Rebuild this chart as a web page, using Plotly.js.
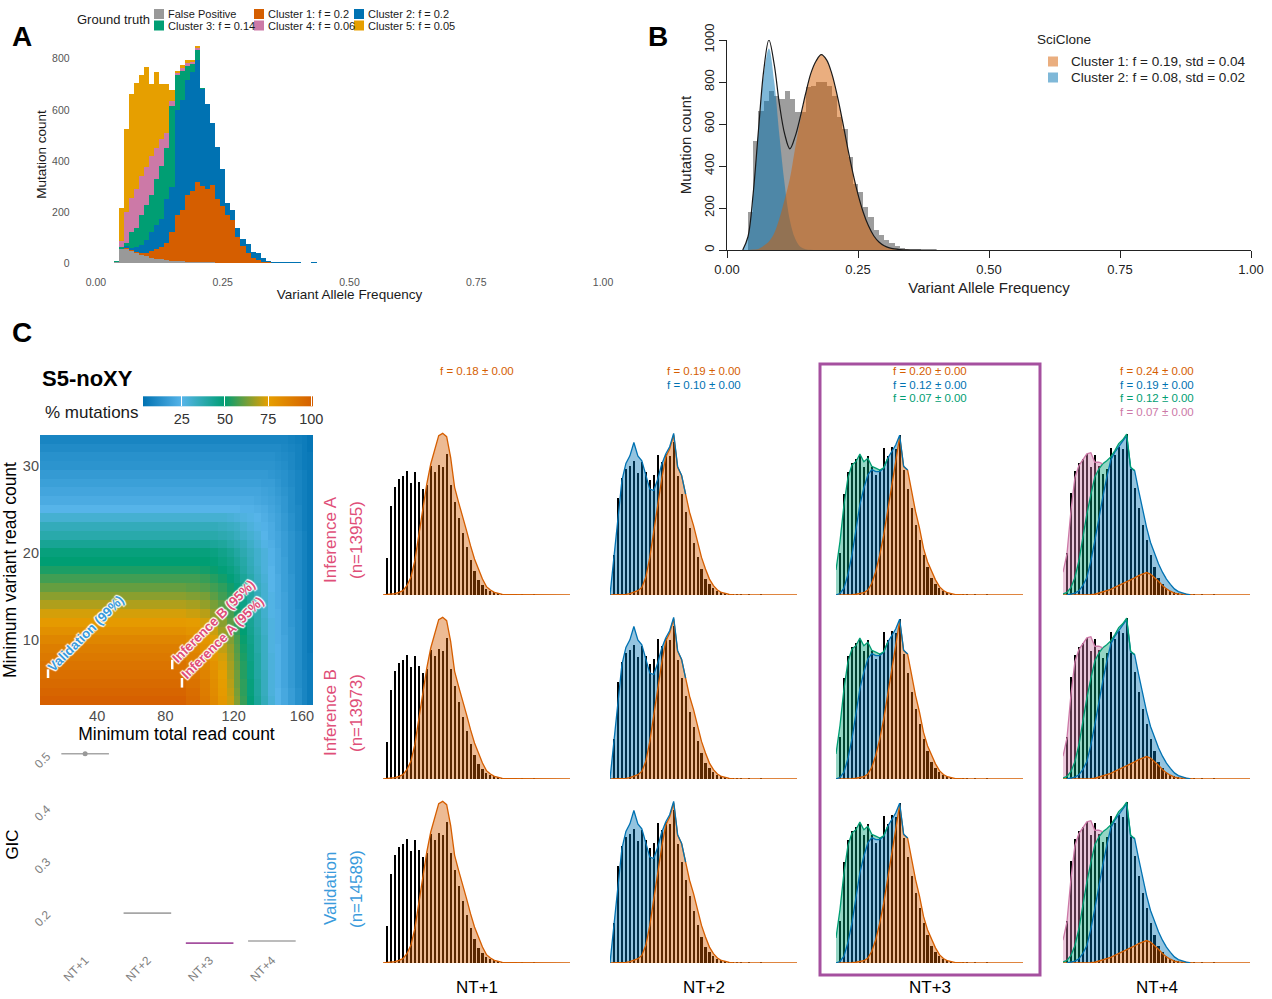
<!DOCTYPE html>
<html><head><meta charset="utf-8">
<script src="https://cdn.plot.ly/plotly-3.0.1.min.js"></script>
<style>html,body{margin:0;padding:0;background:#fff}#chart{width:1272px;height:999px}</style>
</head><body><div id="chart"></div>
<script>
// ================= DATA =================
// ---- Panel A: ground-truth stacked histogram (bin centres, counts) ----
const vafA = [0.04,0.05,0.06,0.07,0.08,0.09,0.10,0.11,0.12,0.13,
  0.14,0.15,0.16,0.17,0.18,0.19,0.20,0.21,0.22,0.23,
  0.24,0.25,0.26,0.27,0.28,0.29,0.30,0.31,0.32,0.33,
  0.34,0.35,0.36,0.37,0.38,0.39,0.40,0.41,0.42,0.43,
  0.44,0.45,0.46,0.47,0.48,0.49,0.50,0.51,0.52,0.53,
  0.54,0.55,0.56,0.57,0.58];
const falsePositive = [4,55,56,48,39,33,28,20,18,15, 12,10,8,7,6,5,5,4,3,3, 2,2,2,1,1,1,0,0,0,0,
  0,0,0,0,0,1,1,0,0,0, 0,0,0,0,1,1,0,0,0,0, 0,0,0,0,1];
const cluster1 = [0,0,2,3,4,5,11,29,38,50, 66,113,181,202,259,279,314,297,288,301, 250,222,188,167,100,65,40,22,12,6, 3,1,0,1];
const cluster2 = [0,2,8,10,22,33,51,74,93,109, 174,177,412,431,452,465,478,382,333,246, 201,145,47,39,35,28,34,23,27,13,
  7,4,3,5,3,2,2,1,2,3, 2,1];
const cluster3 = [3,5,12,62,73,116,136,142,180,207, 200,314,135,113,54,32,38,3];
const cluster4 = [0,25,122,133,153,155,149,155,123,103, 58,19,10,12,12,8,6];
const cluster5 = [0,128,326,405,413,394,394,282,295,218, 192,45,7,10,14,6,8];
const truthNames = ['False Positive','Cluster 1: f = 0.2','Cluster 2: f = 0.2','Cluster 3: f = 0.14','Cluster 4: f = 0.06','Cluster 5: f = 0.05'];

// ---- Panel B: SciClone fit ----
const binB = [0.045,0.055,0.065,0.075,0.085,0.095,0.105,0.115,0.125,0.135,
  0.145,0.155,0.165,0.175,0.185,0.195,0.205,0.215,0.225,0.235,
  0.245,0.255,0.265,0.275,0.285,0.295,0.305,0.315,0.325,0.335,
  0.345,0.355,0.365,0.375,0.385,0.395,0.405,0.415];
const countB = [182,521,663,711,755,735,719,755,719,655, 655,774,782,798,798,782,735,632,577,442,
  316,276,205,158,95,71,47,32,19,11, 6,4,3,2,2,1,1,1];
const gridB = [0.03,0.04,0.05,0.06,0.07,0.08,0.09,0.10,0.11,0.12,
  0.13,0.14,0.15,0.16,0.17,0.18,0.19,0.20,0.21,0.22,
  0.23,0.24,0.25,0.26,0.27,0.28,0.29,0.30,0.31,0.32,
  0.33,0.34,0.35,0.36,0.37,0.38,0.39,0.40];
const sciCluster1 = [0,0,2,5,20,40,80,150,240,340, 485,620,740,840,900,930,905,840,740,620,
  490,370,265,180,115,68,38,20,10,5, 2,1,0,0,0,0,0,0];
const sciCluster2 = [0,63,268,564,833,960,805,545,313,142, 55,15,4,1,0,0,0,0,0,0,
  0,0,0,0,0,0,0,0,0,0, 0,0,0,0,0,0,0,0];
const sciNames = ['Cluster 1: f = 0.19, std = 0.04','Cluster 2: f = 0.08, std = 0.02'];

// ---- Panel C heatmap: % mutations retained ----
const minTotalEdges = [6.5,92,100,106,111,116,120,124,128,132,136,140,144,148,152,156,160,163,166.5];
const minVariant = [3,4,5,6,7,8,9,10,11,12,13,14,15,16,17,18,19,20,21,22,23,24,25,26,27,28,29,30,31,32,33];
const pctMutations = [
  [100,96,90,84,78,72,64,56,49,42,35,29,25,21,17,13,9,6],
  [98,95,89,83,77,71,63,55,48,41,34,28,25,21,17,13,9,6],
  [96,93,88,82,76,70,62,55,48,41,34,28,24,20,16,12,9,6],
  [94,91,86,81,75,69,62,54,47,40,34,28,24,20,16,12,9,6],
  [92,89,85,80,74,68,61,54,47,40,33,28,24,20,16,12,8,6],
  [90,87,83,78,73,67,60,53,46,40,33,28,24,20,16,12,8,6],
  [88,85,81,76,71,66,59,52,46,39,33,27,24,20,16,12,8,5],
  [85,83,79,74,69,64,58,51,45,39,33,27,23,20,16,12,8,5],
  [81,79,76,72,67,62,56,50,44,38,32,27,23,19,16,12,8,5],
  [77,76,73,69,65,60,55,49,43,37,32,27,23,19,15,12,8,5],
  [73,72,70,66,62,58,53,48,42,37,31,26,23,19,15,12,8,5],
  [69,68,66,63,60,56,51,46,41,36,31,26,22,19,15,11,8,5],
  [65,64,63,60,57,54,50,45,40,35,30,26,22,19,15,11,8,5],
  [61,60,59,57,55,52,48,44,39,34,30,25,22,18,15,11,8,5],
  [57,57,56,54,52,49,46,42,38,33,29,25,22,18,15,11,8,5],
  [53,53,52,51,49,47,44,40,36,32,28,25,21,18,14,11,8,5],
  [50,50,50,49,47,45,42,39,35,31,28,24,21,18,14,11,8,5],
  [48,48,48,47,45,43,40,37,34,31,28,24,21,17,14,11,8,5],
  [43,43,43,42,41,39,37,35,32,29,26,23,20,17,14,11,8,5],
  [38,38,38,38,37,36,34,32,30,28,25,22,20,17,14,11,8,5],
  [35,35,35,35,34,33,32,30,28,26,24,22,19,16,13,10,7,5],
  [30,30,30,30,30,29,28,27,26,25,23,21,19,16,13,10,7,5],
  [25,25,25,25,25,25,25,24,24,23,22,20,18,15,12,10,7,5],
  [22,22,22,22,22,22,22,22,22,21,20,19,17,15,12,9,7,5],
  [20,20,20,20,20,20,20,20,20,20,19,18,16,14,12,9,7,5],
  [18,18,18,18,18,18,18,18,18,18,17,17,15,13,11,9,7,5],
  [16,16,16,16,16,16,16,16,16,16,16,15,14,13,11,9,7,5],
  [14,14,14,14,14,14,14,14,14,14,14,14,13,12,10,8,6,5],
  [13,13,13,13,13,13,13,13,13,13,13,13,12,11,10,8,6,5],
  [11,11,11,11,11,11,11,11,11,11,11,11,11,10,9,8,6,4],
  [9,9,9,9,9,9,9,9,9,9,9,9,9,9,8,7,6,4]];

// ---- Panel C: GIC per number of clusters ----
const gicCategories = ['NT+1','NT+2','NT+3','NT+4'];
const gicValues = [0.502, 0.200, 0.143, 0.147];

// ---- Panel C: VAF histograms with fitted cluster densities ----
const binC = [0.04,0.05,0.06,0.07,0.08,0.09,0.10,0.11,0.12,0.13,
  0.14,0.15,0.16,0.17,0.18,0.19,0.20,0.21,0.22,0.23,
  0.24,0.25,0.26,0.27,0.28,0.29,0.30,0.31,0.32,0.33,
  0.34,0.35,0.36,0.37,0.38,0.39,0.40,0.41,0.42,0.43,
  0.44,0.45,0.46,0.47,0.48,0.49,0.50];
const histC = [110,268,325,348,358,371,337,368,339,318, 331,387,368,390,385,422,330,280,230,185,
  145,105,73,45,30,18,11,8,5,3, 3,2,2,1,2,1,1,2,1,1, 0,1,0,0,0,0,0];
const vafC = [0.03,0.04,0.05,0.06,0.07,0.08,0.09,0.10,0.11,0.12,
  0.13,0.14,0.15,0.16,0.17,0.18,0.19,0.20,0.21,0.22,
  0.23,0.24,0.25,0.26,0.27,0.28,0.29,0.30,0.31,0.32,
  0.33,0.34,0.35,0.36,0.37,0.38,0.39,0.40,0.41,0.42,
  0.43,0.44,0.45,0.46,0.47,0.48,0.49,0.50];
const nt1Orange = [0,1,2,4,8,13,28,53,103,183, 263,333,393,433,478,485,475,413,323,278,
  238,193,148,108,78,48,25,15,8,4, 2,1,1,0,0,1,0,0,0,0, 0,0,0,0,0,0,0,0];
const nt2Orange = [0,0,0,1,2,4,7,12,21,49, 104,178,252,321,381,404,443,353,330,279,
  229,192,146,104,72,44,26,14,7,4, 2,1,0,0,0,0,1,0,0,0, 0,0,0,0,0,0,0,0];
const nt2Blue = [0,104,215,316,362,381,415,373,350,286, 189,111,69,41,9,6,4,2,1,0,
  0,0,0,0,0,0,0,0,0,0, 0,0,0,0,0,0,0,0,0,0, 0,0,0,0,0,0,0,0];
const nt3Orange = [0,0,0,1,1,2,3,6,13,31, 62,106,159,220,282,352,418,339,330,273,
  220,176,123,88,62,40,22,12,6,3, 1,1,0,0,0,0,0,0,0,0, 0,0,0,0,0,0,0,0];
const nt3Blue = [0,4,18,53,104,174,235,276,304,300, 264,220,176,141,97,44,4,1,0,0,
  0,0,0,0,0,0,0,0,0,0, 0,0,0,0,0,0,0,0,0,0, 0,0,0,0,0,0,0,0];
const nt3Green = [66,137,220,256,238,176,134,70,44,9, 9,4,1,0,0,0,0,0,0,0,
  0,0,0,0,0,0,0,0,0,0, 0,0,0,0,0,0,0,0,0,0, 0,0,0,0,0,0,0,0];
const nt4Orange = [0,0,0,0,0,0,0,1,2,5, 8,11,15,20,25,29,33,38,45,51,
  55,59,55,46,36,25,16,10,5,3, 2,1,0,0,0,0,0,0,0,0, 0,0,0,0,0,0,0,0];
const nt4Blue = [0,0,2,5,11,25,46,88,141,199, 249,298,339,355,364,373,386,296,282,224,
  167,119,83,61,46,35,26,18,11,6, 3,1,0,0,0,0,0,0,0,0, 0,0,0,0,0,0,0,0];
const nt4Green = [3,7,18,41,79,127,167,175,167,127, 88,44,9,4,9,6,4,2,0,0,
  0,0,0,0,0,0,0,0,0,0, 0,0,0,0,0,0,0,0,0,0, 0,0,0,0,0,0,0,0];
const nt4Pink = [57,101,202,263,250,202,158,110,39,18, 0,0,0,0,0,0,0,0,0,0,
  0,0,0,0,0,0,0,0,0,0, 0,0,0,0,0,0,0,0,0,0, 0,0,0,0,0,0,0,0];
const cloneFreqs = [[0.18],[0.19,0.10],[0.20,0.12,0.07],[0.24,0.19,0.12,0.07]];
const ntLabels = ['NT+1','NT+2','NT+3','NT+4'];
const rowNames = [['Inference A','(n=13955)'],['Inference B','(n=13973)'],['Validation','(n=14589)']];

// ================= STYLE / LAYOUT =================
const W = 1272, H = 999;
const F = 'Liberation Sans, Arial, Helvetica, sans-serif';
const dx = (a, b) => [a / W, b / W];
const dy = (bottom, top) => [1 - bottom / H, 1 - top / H];
const PAL = {grey:'#999999', orange:'#D55E00', blue:'#0072B2', green:'#009E73', pink:'#CC79A7', yellow:'#E69F00'};
const truthColors = [PAL.grey, PAL.orange, PAL.blue, PAL.green, PAL.pink, PAL.yellow];
const layerColors = [PAL.orange, PAL.blue, PAL.green, PAL.pink];
const layerFills = ['rgba(213,94,0,0.42)','rgba(0,114,178,0.42)','rgba(0,158,115,0.42)','rgba(204,121,167,0.42)'];
const pink = '#DF4F79', sky = '#3A9BDC';

const traces = [];
const shapes = [];
const annotations = [];
const ann = (text, x, y, o = {}) => {
  const a = Object.assign({text, x: x / W, y: 1 - y / H, xref:'paper', yref:'paper', showarrow:false,
    xanchor:'center', yanchor:'middle'}, o);
  a.font = Object.assign({family:F, size:12, color:'#1a1a1a'}, o.font || {});
  annotations.push(a);
};

// ---- Panel A traces ----
[falsePositive, cluster1, cluster2, cluster3, cluster4, cluster5].forEach((ys, k) => {
  traces.push({type:'bar', x: vafA, y: ys, width: 0.01, name: truthNames[k],
    marker:{color: truthColors[k], line:{width:0}}, xaxis:'x', yaxis:'y', hoverinfo:'skip'});
});

// ---- Panel B traces ----
traces.push({type:'bar', x: binB, y: countB, width: 0.01, marker:{color:'#9d9d9d', line:{width:0}},
  xaxis:'x2', yaxis:'y2', hoverinfo:'skip'});
traces.push({type:'scatter', mode:'lines', x: gridB, y: sciCluster2, fill:'tozeroy', name: sciNames[1],
  fillcolor:'rgba(0,114,178,0.5)', line:{width:0, shape:'spline'}, xaxis:'x2', yaxis:'y2', hoverinfo:'skip'});
traces.push({type:'scatter', mode:'lines', x: gridB, y: sciCluster1, fill:'tozeroy', name: sciNames[0],
  fillcolor:'rgba(213,94,0,0.5)', line:{width:0, shape:'spline'}, xaxis:'x2', yaxis:'y2', hoverinfo:'skip'});
traces.push({type:'scatter', mode:'lines', x: gridB, y: gridB.map((_, i) => sciCluster1[i] + sciCluster2[i]),
  line:{color:'#1a1a1a', width:1.2, shape:'spline'}, xaxis:'x2', yaxis:'y2', hoverinfo:'skip'});

// ---- Heatmap ----
traces.push({type:'heatmap', x: minTotalEdges, y: minVariant, z: pctMutations, zmin: 2.5, zmax: 101,
  colorscale:[[0,'#0072B2'],[0.228,'#56B4E9'],[0.482,'#009E73'],[0.736,'#E69F00'],[1,'#D55E00']],
  xaxis:'x3', yaxis:'y3', hoverinfo:'skip',
  colorbar:{orientation:'h', x: 143 / W, xanchor:'left', y: 1 - 417 / H, yanchor:'middle',
    len:170, lenmode:'pixels', thickness:10, thicknessmode:'pixels', outlinewidth:0, xpad:0, ypad:0,
    tickvals:[25,50,75,100], ticks:'inside', ticklen:10, tickcolor:'#ffffff', tickwidth:1,
    tickfont:{family:F, size:14.5, color:'#333'}}});

// ---- GIC ----
traces.push({type:'scatter', mode:'markers', x: gicCategories, y: gicValues,
  marker:{symbol:'line-ew', size:34, line:{width:1.6, color:['#a6a6a6','#a6a6a6','#A5509F','#a6a6a6']}},
  xaxis:'x4', yaxis:'y4', hoverinfo:'skip'});
traces.push({type:'scatter', mode:'markers', x: gicCategories.slice(0,1), y: gicValues.slice(0,1),
  marker:{symbol:'circle', size:5, color:'#999'}, xaxis:'x4', yaxis:'y4', hoverinfo:'skip'});

// ---- Panel C histograms ----
const cLayers = [[nt1Orange],[nt2Orange, nt2Blue],[nt3Orange, nt3Blue, nt3Green],[nt4Orange, nt4Blue, nt4Green, nt4Pink]];
const colPx = [[383,570],[610,797],[836,1023],[1063,1250]];
const rowBase = [595, 779, 963];
const yTop = [501, 462, 441, 439];
const layoutAxes = {};
cLayers.forEach((layers, j) => {
  for (let r = 0; r < 3; r++) {
    const n = 5 + r * 4 + j;
    const xa = 'x' + n, ya = 'y' + n;
    let cum = vafC.map(() => 0);
    const cums = layers.map(layer => (cum = cum.map((v, i) => v + layer[i])));
    cums.forEach((c, k) => traces.push({type:'scatter', mode:'lines', x: vafC, y: c,
      fill: k === 0 ? 'tozeroy' : 'tonexty', fillcolor: layerFills[k], line:{width:0},
      xaxis: xa, yaxis: ya, hoverinfo:'skip'}));
    cums.forEach((c, k) => {
      const L = layers[k];
      const y = c.map((v, i) => (k === 0 || L[i] > 0 || (i > 0 && L[i-1] > 0) || (i < L.length - 1 && L[i+1] > 0)) ? v : null);
      traces.push({type:'scatter', mode:'lines', x: vafC, y, line:{color: layerColors[k], width:1.3},
        xaxis: xa, yaxis: ya, hoverinfo:'skip'});
    });
    traces.push({type:'bar', x: binC, y: histC, width: 0.0052, marker:{color:'#000', line:{width:0}},
      xaxis: xa, yaxis: ya, hoverinfo:'skip'});
    const hidden = {showgrid:false, zeroline:false, showline:false, showticklabels:false, ticks:''};
    layoutAxes['xaxis' + n] = Object.assign({domain: dx(colPx[j][0], colPx[j][1]), range:[0.03, 0.50], anchor: ya}, hidden);
    layoutAxes['yaxis' + n] = Object.assign({domain: dy(rowBase[r], rowBase[r] - 167), range:[0, yTop[j]], anchor: xa}, hidden);
  }
});

// ---- Shapes: legend keys, frame, heatmap threshold ticks ----
truthNames.forEach((nm, k) => {
  const col = k % 3, row = Math.floor(k / 3);
  const x0 = 154 + 100 * col, yc = row === 0 ? 14 : 25.5;
  shapes.push({type:'rect', xref:'paper', yref:'paper', x0: x0 / W, x1: (x0 + 10) / W,
    y0: 1 - (yc + 5) / H, y1: 1 - (yc - 5) / H, fillcolor: truthColors[k], line:{width:0}});
  ann(nm, x0 + 12, yc, {xanchor:'left', font:{size:11}});
});
ann('Ground truth', 75, 20, {xanchor:'left', font:{size:13}});

[['rgba(213,94,0,0.5)', sciNames[0], 61.5], ['rgba(0,114,178,0.5)', sciNames[1], 77.5]].forEach(([c, nm, yc]) => {
  shapes.push({type:'rect', xref:'paper', yref:'paper', x0: 1048 / W, x1: 1058 / W,
    y0: 1 - (yc + 5) / H, y1: 1 - (yc - 5) / H, fillcolor: c, line:{width:0}});
  ann(nm, 1069, yc, {xanchor:'left', font:{size:13.5, color:'#222'}});
});
ann('SciClone', 1035, 40, {xanchor:'left', font:{size:13.5, color:'#222'}});

shapes.push({type:'rect', xref:'paper', yref:'paper', x0: 820 / W, x1: 1040 / W, y0: 1 - 975 / H, y1: 1 - 364 / H,
  line:{color:'#A5509F', width:3}, fillcolor:'rgba(0,0,0,0)'});

[[11.2, 5.6, 6.6], [84.0, 6.6, 7.7], [89.7, 4.5, 5.6]].forEach(([x, y0, y1]) => {
  shapes.push({type:'line', xref:'x3', yref:'y3', x0: x, x1: x, y0, y1, line:{color:'#ffffff', width:2.5}});
});
const outline = '1px 1px 1px #fff, -1px -1px 1px #fff, 1px -1px 1px #fff, -1px 1px 1px #fff, 0 0 2px #fff';
[['Validation (99%)', 7.6, 5.7, sky], ['Inference B (95%)', 80.2, 6.7, pink], ['Inference A (95%)', 86.2, 4.8, pink]].forEach(([t, x, y, c]) => {
  annotations.push({text:'<b>' + t + '</b>', x, y, xref:'x3', yref:'y3', showarrow:false, textangle:-45,
    xanchor:'left', yanchor:'bottom', font:{family:F, size:13.2, color:c, shadow: outline}});
});

// ---- Text annotations ----
ann('<b>A</b>', 22, 37, {font:{size:28, color:'#000'}});
ann('<b>B</b>', 658, 37, {font:{size:28, color:'#000'}});
ann('<b>C</b>', 22, 332, {font:{size:28, color:'#000'}});
ann('<b>S5-noXY</b>', 40, 378, {xanchor:'left', font:{size:22, color:'#000'}});
ann('% mutations', 43, 412, {xanchor:'left', font:{size:17}});

const colCentre = colPx.map(c => (c[0] + c[1]) / 2);
cloneFreqs.forEach((fs, j) => {
  fs.forEach((f, k) => ann('f = ' + f.toFixed(2) + ' \u00b1 0.00', colCentre[j], 371 + 13.5 * k,
    {font:{size:11.5, color: layerColors[k]}}));
  ann(ntLabels[j], colCentre[j], 987, {font:{size:17, color:'#000'}});
});
rowNames.forEach((rn, r) => {
  const yc = [540, 713, 889][r];
  const c = r === 2 ? sky : pink;
  ann(rn[0], 330, yc, {textangle:-90, font:{size:17, color:c}});
  ann(rn[1], 356, yc, {textangle:-90, font:{size:17, color:c}});
});

const tf = (s, c) => ({family:F, size:s, color:c});
const layout = Object.assign({
  width: W, height: H, autosize:false, margin:{l:0, r:0, t:0, b:0},
  paper_bgcolor:'#ffffff', plot_bgcolor:'rgba(0,0,0,0)', showlegend:false,
  barmode:'stack', bargap:0, hovermode:false,
  font:{family:F, color:'#1a1a1a'},
  xaxis:{domain: dx(70.6, 628.4), range:[-0.05, 1.05], anchor:'y', tickvals:[0,0.25,0.5,0.75,1],
    ticktext:['0.00','0.25','0.50','0.75','1.00'], ticks:'', showgrid:false, zeroline:false, showline:false,
    tickfont: tf(10.5, '#555'), title:{text:'Variant Allele Frequency', font: tf(13.5, '#1a1a1a'), standoff:0}},
  yaxis:{domain: dy(274, 35), range:[-42.5, 893], anchor:'x', tickvals:[0,200,400,600,800], ticks:'',
    showgrid:false, zeroline:false, showline:false, tickfont: tf(10.5, '#555'),
    title:{text:'Mutation count', font: tf(13.5, '#1a1a1a'), standoff:2}},
  xaxis2:{domain: dx(727, 1251), range:[0, 1], anchor:'y2', tickvals:[0,0.25,0.5,0.75,1],
    ticktext:['0.00','0.25','0.50','0.75','1.00'], ticks:'outside', ticklen:7, tickcolor:'#222',
    showline:true, linecolor:'#222', linewidth:1, showgrid:false, zeroline:false,
    tickfont: tf(13, '#222'), title:{text:'Variant Allele Frequency', font: tf(15, '#222'), standoff:6}},
  yaxis2:{domain: dy(250, 40), range:[0, 1000], anchor:'x2', tickvals:[0,200,400,600,800,1000], tickangle:-90,
    ticks:'outside', ticklen:7, tickcolor:'#222', showline:true, linecolor:'#222', linewidth:1,
    showgrid:false, zeroline:false, tickfont: tf(13, '#222'),
    title:{text:'Mutation count', font: tf(15, '#222'), standoff:6}},
  xaxis3:{domain: dx(40, 313), range:[6.5, 166.5], anchor:'y3', tickvals:[40,80,120,160], ticks:'',
    showgrid:false, zeroline:false, showline:false, tickfont: tf(14.5, '#4d4d4d'),
    title:{text:'Minimum total read count', font: tf(17.5, '#000'), standoff:0}},
  yaxis3:{domain: dy(705, 435), range:[2.5, 33.5], anchor:'x3', tickvals:[10,20,30], ticks:'',
    showgrid:false, zeroline:false, showline:false, tickfont: tf(14.5, '#4d4d4d'),
    title:{text:'Minimum variant read count', font: tf(17.5, '#000'), standoff:2}},
  xaxis4:{domain: dx(54, 303), type:'category', range:[-0.5, 3.5], anchor:'y4', tickangle:-45, ticks:'',
    showgrid:false, zeroline:false, showline:false, tickfont: tf(12, '#808080')},
  yaxis4:{domain: dy(950, 739), range:[0.13, 0.53], anchor:'x4', tickvals:[0.2,0.3,0.4,0.5], tickangle:-45,
    ticks:'', ticklabelstandoff:6, showgrid:false, zeroline:false, showline:false, tickfont: tf(12, '#808080'),
    title:{text:'GIC', font: tf(17, '#000'), standoff:8}},
  shapes, annotations
}, layoutAxes);

Plotly.newPlot('chart', traces, layout, {staticPlot:true, displayModeBar:false});
</script></body></html>
